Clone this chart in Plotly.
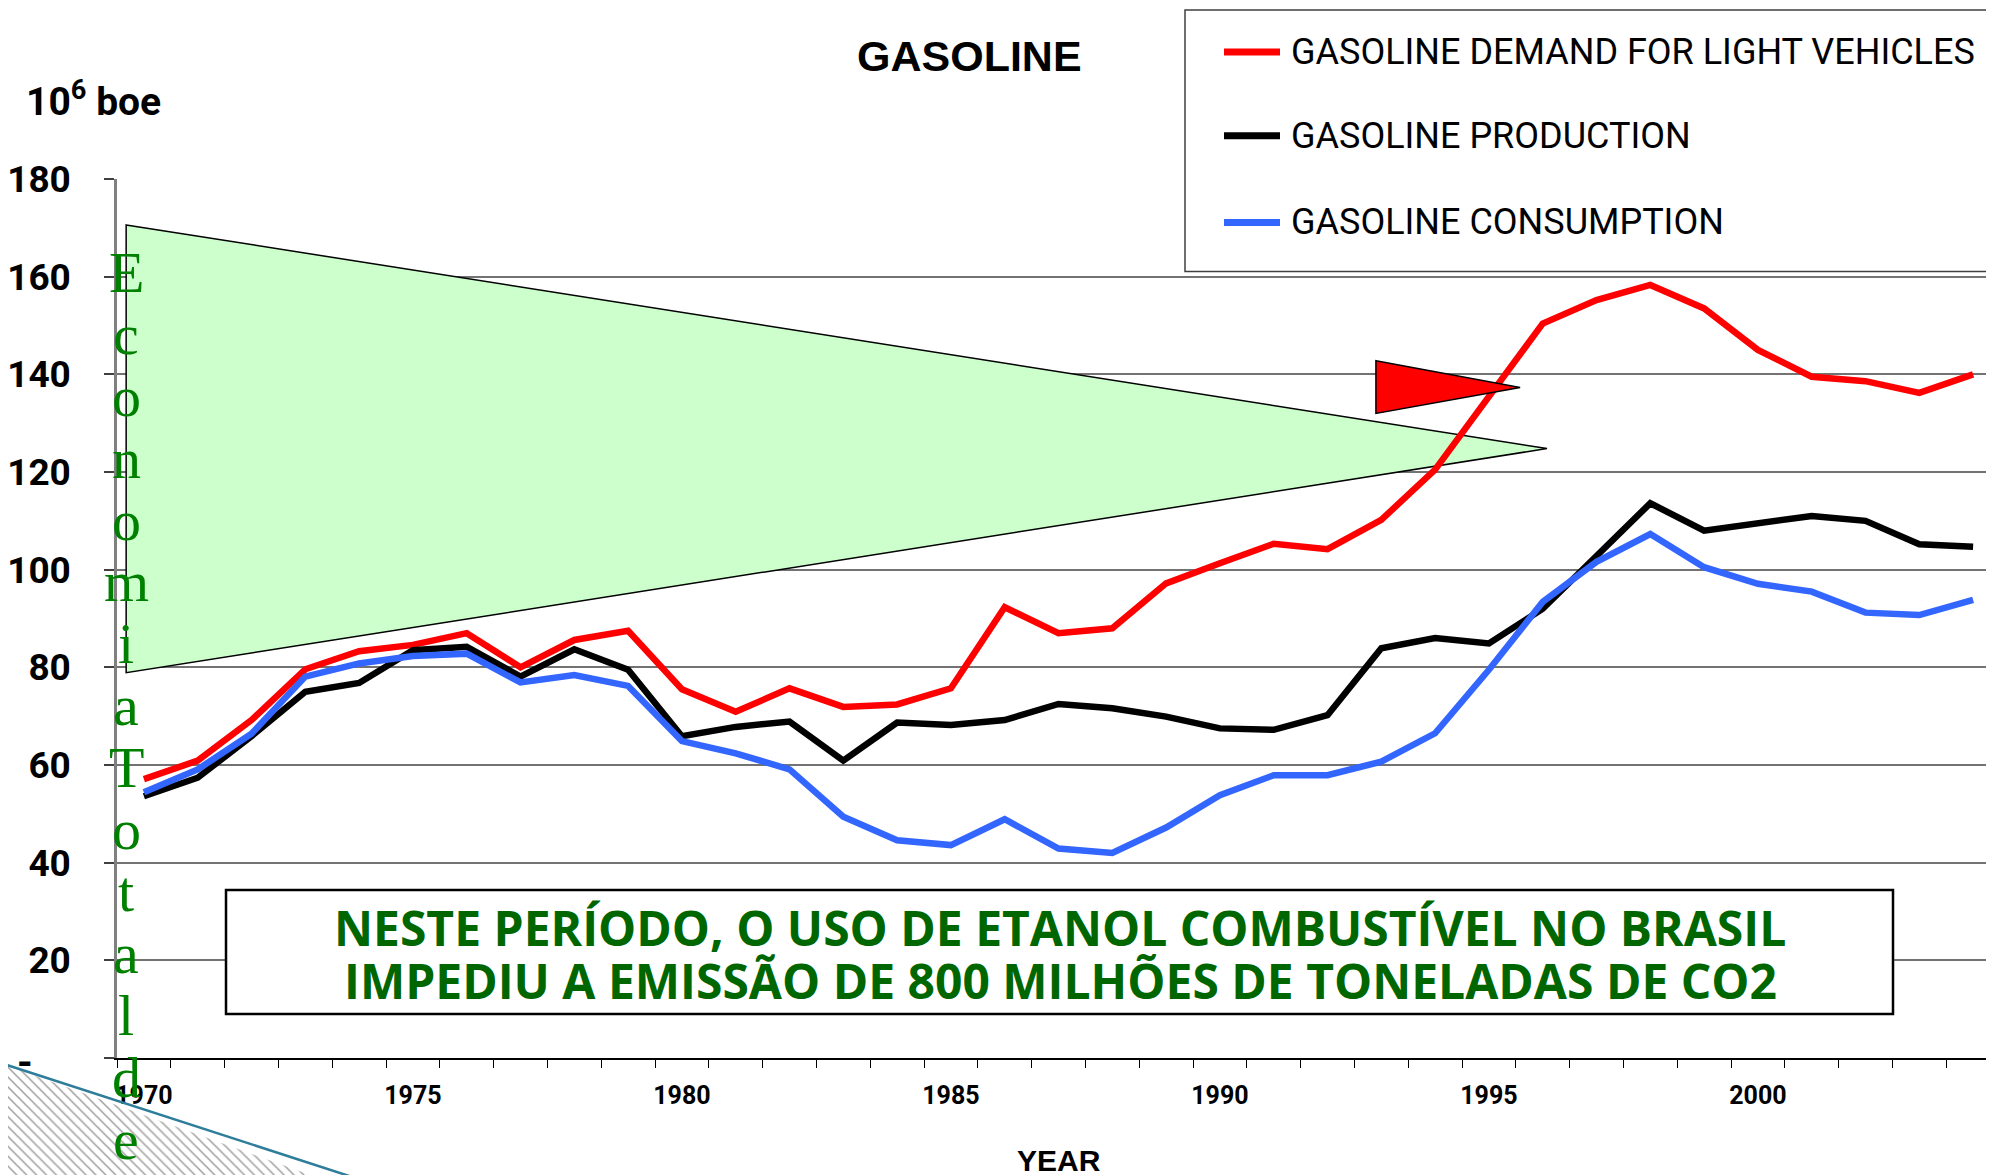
import plotly.graph_objects as go

# ---------------- data ----------------
years = list(range(1970, 2005))
demand_light_vehicles = [57.1, 60.9, 69.2, 79.6, 83.3, 84.6, 87.0, 80.0, 85.6, 87.5,
                         75.5, 70.9, 75.7, 71.9, 72.4, 75.7, 92.3, 87.0, 88.0, 97.2,
                         101.3, 105.3, 104.2, 110.2, 120.5, 135.4, 150.4, 155.2, 158.3, 153.5,
                         145.0, 139.5, 138.6, 136.2, 140.0]
production = [53.6, 57.4, 65.9, 75.0, 76.8, 83.5, 84.2, 78.1, 83.7, 79.5,
              65.9, 67.8, 68.9, 60.9, 68.7, 68.2, 69.2, 72.5, 71.6, 69.9,
              67.5, 67.2, 70.2, 83.9, 86.0, 84.9, 92.0, 102.6, 113.6, 108.0,
              109.5, 111.0, 110.0, 105.2, 104.7]
consumption = [54.4, 59.1, 66.4, 78.1, 80.8, 82.3, 82.8, 76.9, 78.4, 76.2,
               64.9, 62.4, 59.1, 49.4, 44.6, 43.6, 48.9, 42.9, 42.0, 47.2,
               53.8, 57.9, 57.9, 60.7, 66.5, 79.5, 93.4, 101.6, 107.3, 100.5,
               97.1, 95.5, 91.2, 90.7, 93.8]

series_names = ["GASOLINE DEMAND FOR LIGHT VEHICLES", "GASOLINE PRODUCTION", "GASOLINE CONSUMPTION"]
series_colors = ["#FF0000", "#000000", "#3366FF"]

x_tick_years = [1970, 1975, 1980, 1985, 1990, 1995, 2000]
y_tick_values = [0, 20, 40, 60, 80, 100, 120, 140, 160, 180]
y_tick_labels = ["", "20", "40", "60", "80", "100", "120", "140", "160", "180"]

vertical_text = "EconomiaTotalde"
note_lines = ["NESTE PERÍODO, O USO DE ETANOL COMBUSTÍVEL NO BRASIL",
              "IMPEDIU A EMISSÃO DE 800 MILHÕES DE TONELADAS DE CO2"]

# ---------------- layout helpers ----------------
W, H = 1994, 1175
OFF = 8  # page body margin: figure is drawn 8px right/down of the window corner
PLOT_L, PLOT_T, PLOT_B = 117, 179, 1058   # screen pixel positions of plot area
YEAR_PX = 53.8                           # pixels per year on screen


def px(x):
    return (x - OFF) / W


def py(y):
    return 1 - (y - OFF) / H


NARROW = "Roboto, Liberation Sans, Arial, sans-serif"
ARIAL = "Liberation Sans, Arial, sans-serif"

fig = go.Figure()

for name, vals, col in zip(series_names, [demand_light_vehicles, production, consumption], series_colors):
    fig.add_trace(go.Scatter(x=years, y=vals, mode="lines", name=name,
                             line=dict(color=col, width=6.5), showlegend=False,
                             xaxis="x", yaxis="y"))

# decorative hatched corner (bottom-left), on a full-figure overlay axis (screen pixels)
fig.add_trace(go.Scatter(x=[-20, 352, -20, -20], y=[1056, 1190, 1190, 1056], mode="lines",
                         fill="toself", line=dict(width=0, color="rgba(0,0,0,0)"),
                         fillcolor="white",
                         fillpattern=dict(shape="\\", fgcolor="#a0a0a0", bgcolor="white",
                                          size=7, solidity=0.22),
                         showlegend=False, hoverinfo="skip", xaxis="x2", yaxis="y2"))

shapes = []
# green triangle
shapes.append(dict(type="path", xref="x", yref="y",
                   path="M 1969.67,170.6 L 1996.08,124.8 L 1969.67,78.9 Z",
                   fillcolor="#CCFFCC", line=dict(color="black", width=1.5), layer="between"))
# red triangle
shapes.append(dict(type="path", xref="x", yref="y",
                   path="M 1992.9,142.8 L 1995.58,137.3 L 1992.9,132.0 Z",
                   fillcolor="#FF0000", line=dict(color="black", width=1.5), layer="above"))
# note box
shapes.append(dict(type="rect", xref="paper", yref="paper",
                   x0=px(226), x1=px(1893), y0=py(890), y1=py(1014),
                   fillcolor="white", line=dict(color="black", width=2.5), layer="above"))
# legend box
shapes.append(dict(type="rect", xref="paper", yref="paper",
                   x0=px(1185), x1=px(2020), y0=py(10), y1=py(271.5),
                   fillcolor="white", line=dict(color="#404040", width=1.5), layer="above"))
legend_y = [52, 135.7, 222.5]
for yy, col in zip(legend_y, series_colors):
    shapes.append(dict(type="line", xref="paper", yref="paper",
                       x0=px(1224), x1=px(1280), y0=py(yy), y1=py(yy),
                       line=dict(color=col, width=7), layer="above"))
# teal line of the corner shape
shapes.append(dict(type="line", xref="x2", yref="y2",
                   x0=-10, y0=1059.5, x1=380, y1=1186,
                   line=dict(color="#2E7D9A", width=2.5), layer="above"))

annotations = []
annotations.append(dict(text="<b>GASOLINE</b>", xref="paper", yref="paper",
                        x=px(969), y=py(56), xanchor="center", yanchor="middle",
                        showarrow=False, font=dict(family=ARIAL, size=43, color="black")))
annotations.append(dict(text="<b>10<sup>6</sup> boe</b>", xref="paper", yref="paper",
                        x=px(24), y=py(99), xanchor="left", yanchor="middle",
                        showarrow=False, font=dict(family=NARROW, size=39, color="black")))
annotations.append(dict(text="<b>-</b>", xref="paper", yref="paper",
                        x=px(25), y=py(1062), xanchor="center", yanchor="middle",
                        showarrow=False, font=dict(family=NARROW, size=40, color="black")))
annotations.append(dict(text="<b>YEAR</b>", xref="paper", yref="paper",
                        x=px(1059), y=py(1160), xanchor="center", yanchor="middle",
                        showarrow=False, font=dict(family=ARIAL, size=30, color="black")))
for name, yy in zip(series_names, legend_y):
    annotations.append(dict(text=name, xref="paper", yref="paper",
                            x=px(1289), y=py(yy), xanchor="left", yanchor="middle",
                            showarrow=False, font=dict(family=NARROW, size=36, color="black")))
for i, line in enumerate(note_lines):
    annotations.append(dict(text="<b>" + line + "</b>", xref="paper", yref="paper",
                            x=px(1060), y=py(927.5 + i * 53), xanchor="center", yanchor="middle",
                            showarrow=False, font=dict(family="Open Sans, Noto Sans, sans-serif",
                                                       size=48, color="#006600")))
for i, ch in enumerate(vertical_text):
    annotations.append(dict(text=ch, xref="paper", yref="paper",
                            x=px(126), y=py(272.4 + i * 61.9), xanchor="center", yanchor="middle",
                            showarrow=False, font=dict(family="Liberation Serif, Times New Roman, serif",
                                                       size=58, color="#008000")))

plot_w_px = W - (PLOT_L - OFF)
fig.update_layout(
    template="none",
    width=W, height=H,
    margin=dict(l=0, r=0, t=0, b=0, pad=0, autoexpand=False),
    paper_bgcolor="white",
    plot_bgcolor="rgba(0,0,0,0)",
    showlegend=False,
    shapes=shapes,
    annotations=annotations,
    xaxis=dict(domain=[px(PLOT_L), 1], range=[1969.5, 1969.5 + plot_w_px / YEAR_PX],
               tickvals=x_tick_years, ticktext=[str(v) for v in x_tick_years],
               ticks="", showgrid=False, zeroline=False, automargin=False,
               showline=True, linecolor="black", linewidth=2,
               tickfont=dict(family=NARROW, size=25, color="black", weight="bold"),
               ticklabelstandoff=14,
               minor=dict(ticks="outside", ticklen=8, tick0=1969.5, dtick=1,
                          tickcolor="black", tickwidth=1.2, showgrid=False),
               anchor="y"),
    yaxis=dict(domain=[py(PLOT_B), py(PLOT_T)], range=[0, 180],
               tickvals=y_tick_values, ticktext=y_tick_labels,
               ticks="outside", ticklen=10, tickcolor="#404040", tickwidth=1.5,
               showgrid=True, gridcolor="#737373", gridwidth=1.5, zeroline=False,
               showline=True, linecolor="#808080", linewidth=2.5, automargin=False,
               tickfont=dict(family=NARROW, size=37, color="black", weight="bold"),
               ticklabelstandoff=26,
               anchor="x"),
    # overlay axis in screen-pixel units spanning the whole figure
    xaxis2=dict(domain=[0, 1], range=[OFF, OFF + W], visible=False, anchor="y2",
                fixedrange=True, automargin=False),
    yaxis2=dict(domain=[0, 1], range=[OFF + H, OFF], visible=False, anchor="x2",
                fixedrange=True, automargin=False),
)

fig.write_html("out.html")
